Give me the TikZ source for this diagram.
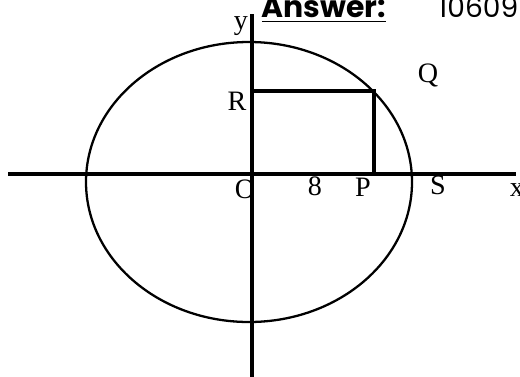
\documentclass[tikz,border=0pt]{standalone}
\usepackage{amsmath,amssymb,fontspec}
\setmainfont{Liberation Serif}
\newfontfamily\ansfont{Poppins}
\usetikzlibrary{positioning}

\begin{document}
\begin{tikzpicture}[x=0.02cm,y=-0.02cm,
    axis/.style={line width=2.2pt},
    curve/.style={line width=1.3pt},
    lbl/.style={font=\fontsize{16}{18}\selectfont,inner sep=0pt}]
  \useasboundingbox (0,0) rectangle (520,376);
  \coordinate (O) at (252,174);
  \coordinate (xl) at (8,174);
  \coordinate (xr) at (516,174);
  \coordinate (yt) at (252,14);
  \coordinate (yb) at (252,378);
  \coordinate (c) at (249,182);
  \coordinate (R) at (252,91);
  \coordinate (Qc) at (374,91);
  \coordinate (Pc) at (374,174);
  % axes and ellipse
  \draw[axis] (xl) -- (xr);
  \draw[axis] (yt) -- (yb);
  \draw[curve] (c) ellipse [x radius=163, y radius=140];
  \draw[axis] (R) -- (Qc) -- (Pc);
  % labels
  \node[lbl] (ylab) at (241,26) {y};
  \node[lbl] (Rlab) at (237,101) {R};
  \node[lbl] (Qlab) at (428,75) {Q};
  \node[lbl] (Olab) at (245,189) {O};
  \node[lbl] (eight) at (315,186) {8};
  \node[lbl] (Plab) at (363,187) {P};
  \node[lbl] (Slab) at (438,185) {S};
  \node[lbl] (xlab) at (517,190) {x};
  \node[font=\ansfont\fontsize{17}{19}\selectfont\bfseries,inner sep=0pt] (ans) at (324,10) {\underline{Answer:}};
  \node[font=\ansfont\fontsize{16}{18}\selectfont,inner sep=0pt,anchor=west] (num) at (438,7) {10609};
\end{tikzpicture}
\end{document}
